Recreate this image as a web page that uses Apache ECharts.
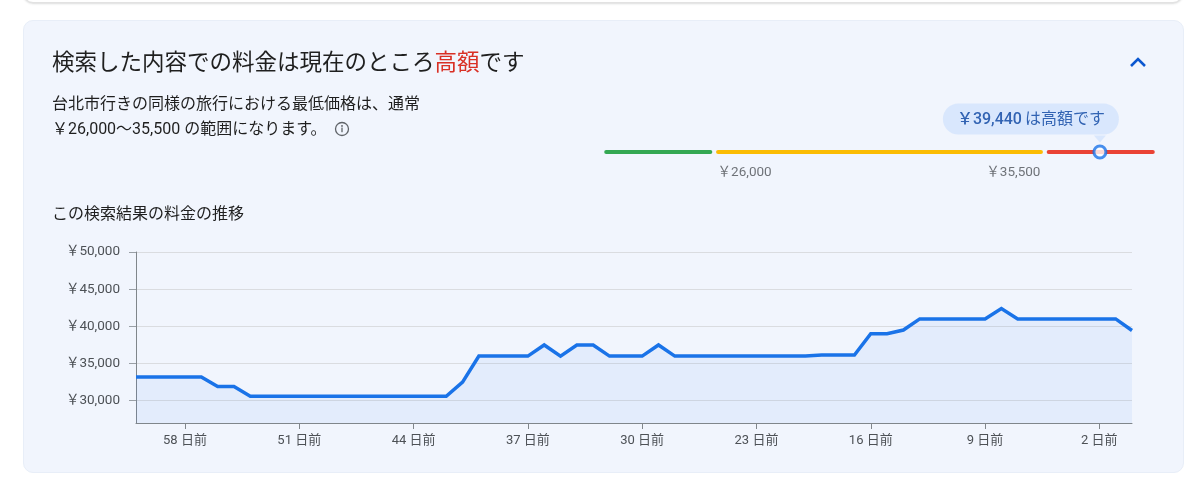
<!DOCTYPE html>
<html><head><meta charset="utf-8">
<script src="https://cdn.jsdelivr.net/npm/echarts@6/dist/echarts.min.js"></script>
<style>
html,body{margin:0;padding:0;background:#fff;width:1200px;height:492px;overflow:hidden;font-family:Roboto,'Noto Sans CJK JP',sans-serif;}
#prev{position:absolute;left:23px;top:-30px;width:1158px;height:31px;border:1px solid #e2e2e2;border-radius:10px;box-shadow:0 1px 2px rgba(60,64,67,.18);background:#fff}
#card{position:absolute;left:23px;top:20px;width:1159px;height:451px;background:#f1f5fd;border:1px solid #e8eef8;border-radius:10px;}
#chart{position:absolute;left:0;top:0;width:1200px;height:492px;}
.t{position:absolute;white-space:nowrap;}
#title{left:52px;top:47px;font-size:22.5px;line-height:30px;color:#1f1f1f;}
#title .hi{color:#d93025;}
#sub{left:52px;top:92px;font-size:16px;line-height:24.5px;color:#1f1f1f;}
#ctitle{left:52px;top:202px;font-size:16px;line-height:24px;color:#1f1f1f;}
svg.ic{position:absolute;}
</style></head>
<body>
<div id="prev"></div>
<div id="card"></div>
<div id="chart"></div>
<div class="t" id="title">検索した内容での料金は現在のところ<span class="hi">高額</span>です</div>
<div class="t" id="sub">台北市行きの同様の旅行における最低価格は、通常<br>￥26,000〜35,500 の範囲になります。</div>
<div class="t" id="ctitle">この検索結果の料金の推移</div>
<svg class="ic" style="left:1126px;top:52px" width="24" height="20"><path d="M5 14 L12 7 L19 14" fill="none" stroke="#0b57d0" stroke-width="2.6"/></svg>
<svg class="ic" style="left:333px;top:120px" width="18" height="18"><circle cx="9" cy="9" r="6.5" fill="none" stroke="#5f6368" stroke-width="1.3"/><circle cx="9" cy="5.9" r="0.95" fill="#5f6368"/><rect x="8.35" y="7.6" width="1.3" height="4.6" fill="#5f6368"/></svg>
<script>
// ---- data ----
const days = [61,60,59,58,57,56,55,54,53,52,51,50,49,48,47,46,45,44,43,42,41,40,39,38,37,36,35,34,33,32,31,30,29,28,27,26,25,24,23,22,21,20,19,18,17,16,15,14,13,12,11,10,9,8,7,6,5,4,3,2,1,0];
const prices = [
  33200,33200,33200,33200,33200,
  31900,31900,
  30600,30600,30600,30600,30600,30600,30600,30600,30600,30600,30600,30600,30600,
  32500,
  36000,36000,36000,36000,
  37500,
  36000,
  37500,37500,
  36000,36000,36000,
  37500,
  36000,36000,36000,36000,36000,36000,36000,36000,36000,
  36150,36150,36150,
  39000,39000,
  39500,
  41000,41000,41000,41000,41000,
  42400,
  41000,41000,41000,41000,41000,41000,41000,
  39440
];
const yTicks = [30000,35000,40000,45000,50000];
const yMin = 27000, yMax = 50000;
const typicalRange = [26000, 35500];
const currentPrice = 39440;
const bandColors = ['#34a853','#fbbc04','#ea4335'];

// ---- layout helpers ----
const FONT = 'Roboto, "Noto Sans CJK JP", sans-serif';
const LABEL = '#4d5156';
const yen = v => '￥' + v.toLocaleString('en-US');
const bands = [[0,1],[1,4],[4,5]];
const inset = [[0.02,0.035],[0.035,0.035],[0.035,0.02]];
const bandIdx = currentPrice < typicalRange[0] ? 0 : (currentPrice <= typicalRange[1] ? 1 : 2);
const markerPos = (bands[bandIdx][0] + bands[bandIdx][1]) / 2;
const showDay = (i, v) => Number(v) % 7 === 2;

const segSeries = bands.map((b, i) => ({
  type: 'line', xAxisIndex: 1, yAxisIndex: 1, symbol: 'none', silent: true, z: 2,
  data: [[b[0] + inset[i][0], 0.5], [b[1] - inset[i][1], 0.5]],
  lineStyle: { color: bandColors[i], width: 4, cap: 'round' }
}));

const chart = echarts.init(document.getElementById('chart'), null, { renderer: 'canvas' });
chart.setOption({
  animation: false,
  textStyle: { fontFamily: FONT },
  grid: [
    { left: 136, right: 68, top: 252, bottom: 69 },
    { left: 604, top: 142, width: 551, height: 20 }
  ],
  xAxis: [
    {
      type: 'category', data: days, boundaryGap: false, gridIndex: 0,
      axisLine: { lineStyle: { color: '#80868b', width: 1 } },
      axisTick: { show: true, length: 6, interval: showDay, lineStyle: { color: '#80868b' } },
      axisLabel: { interval: showDay, formatter: d => d + ' 日前', color: LABEL, fontSize: 13, margin: 11, fontFamily: FONT },
      splitLine: { show: false }
    },
    { type: 'value', gridIndex: 1, min: 0, max: 5, show: false }
  ],
  yAxis: [
    {
      type: 'value', gridIndex: 0, min: yMin, max: yMax, splitNumber: 5,
      axisLine: { show: true, lineStyle: { color: '#80868b', width: 1 } },
      axisTick: { show: true, length: 7, customValues: yTicks, lineStyle: { color: '#9aa0a6' } },
      axisLabel: { customValues: yTicks, formatter: v => yen(v), color: LABEL, fontSize: 13.5, margin: 16, fontFamily: FONT },
      splitLine: { show: true, lineStyle: { color: '#dadce0', width: 1 } }
    },
    { type: 'value', gridIndex: 1, min: 0, max: 1, show: false }
  ],
  series: [
    {
      type: 'line', data: prices, symbol: 'none', xAxisIndex: 0, yAxisIndex: 0,
      lineStyle: { color: '#1a73e8', width: 3.5, join: 'miter' },
      areaStyle: { color: 'rgba(26,115,232,0.09)', origin: 'start' },
      z: 3
    },
    ...segSeries,
    {
      type: 'scatter', xAxisIndex: 1, yAxisIndex: 1, symbolSize: 1, silent: true, z: 2,
      itemStyle: { color: 'rgba(0,0,0,0)' },
      data: [
        { value: [bands[1][0] + inset[1][0], 0.5], label: { align: 'left', formatter: yen(typicalRange[0]) } },
        { value: [bands[1][1] - inset[1][1], 0.5], label: { align: 'right', formatter: yen(typicalRange[1]) } }
      ],
      label: { show: true, position: [0, 21], verticalAlign: 'middle', color: LABEL, fontSize: 13.5, fontFamily: FONT }
    },
    {
      type: 'scatter', xAxisIndex: 1, yAxisIndex: 1, silent: true, z: 3,
      symbol: 'triangle', symbolRotate: 180, symbolSize: [12, 7], symbolOffset: [0, -13],
      itemStyle: { color: '#d3e3fd' },
      data: [[markerPos, 0.5]]
    },
    {
      type: 'scatter', xAxisIndex: 1, yAxisIndex: 1, silent: true, z: 4,
      symbol: 'circle', symbolSize: 12,
      itemStyle: { color: '#ffffff', borderColor: '#1a73e8', borderWidth: 3 },
      data: [[markerPos, 0.5]],
      label: {
        show: true, position: 'top', distance: 10, offset: [-69, 0],
        formatter: '{b|' + yen(currentPrice) + '} {n|は高額です}',
        backgroundColor: '#d3e3fd', borderRadius: 16, padding: [7, 14, 6, 14],
        rich: {
          b: { fontSize: 16, fontWeight: 500, color: '#0842a0', fontFamily: FONT, lineHeight: 18 },
          n: { fontSize: 16, color: '#0842a0', fontFamily: FONT, lineHeight: 18 }
        }
      }
    }
  ]
});
</script>
</body></html>
